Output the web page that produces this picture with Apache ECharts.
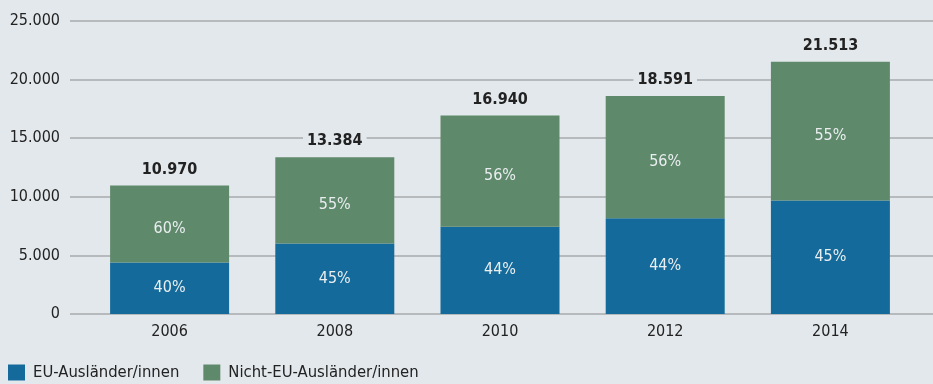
<!DOCTYPE html>
<html>
<head>
<meta charset="utf-8">
<script src="https://cdn.jsdelivr.net/npm/echarts@6/dist/echarts.min.js"></script>
<style>
  html, body { margin: 0; padding: 0; background: #e3e8ec; }
  #chart { width: 933px; height: 384px; }
</style>
</head>
<body>
<div id="chart"></div>
<script>
// Ausländische Studierende nach Herkunft
const years = ['2006', '2008', '2010', '2012', '2014'];
const totals = [10970, 13384, 16940, 18591, 21513];
const euShare = [40, 45, 44, 44, 45];      // Anteil EU in %
const nonEuShare = [60, 55, 56, 56, 55];   // Anteil Nicht-EU in %
const yTicks = [0, 5000, 10000, 15000, 20000, 25000];
const seriesNames = ['EU-Ausländer/innen', 'Nicht-EU-Ausländer/innen'];

const euValues = totals.map((t, i) => Math.round(t * euShare[i] / 100));
const nonEuValues = totals.map((t, i) => t - euValues[i]);

const BG = '#e3e8ec';
const FONT = '"Liberation Sans Narrow", "DejaVu Sans Condensed", "Roboto", sans-serif';
const fmt = v => String(v).replace(/\B(?=(\d{3})+(?!\d))/g, '.');

const chart = echarts.init(document.getElementById('chart'), null, { renderer: 'canvas' });

const yMax = yTicks[yTicks.length - 1];
const yStep = yTicks[1] - yTicks[0];

chart.setOption({
  backgroundColor: BG,
  textStyle: { fontFamily: FONT },
  animation: false,
  legend: {
    left: 8,
    bottom: 3,
    padding: 0,
    itemWidth: 17,
    itemHeight: 16,
    itemGap: 24,
    icon: 'rect',
    textStyle: { fontFamily: FONT, fontSize: 16.5, color: '#222', padding: [0, 0, 0, 3] },
    data: seriesNames
  },
  grid: [
    { left: 87, right: 20, top: 21, bottom: 70 },  // bars
    { left: 70, right: 0, top: 21, bottom: 70 }     // gridlines + y labels
  ],
  xAxis: [
    {
      type: 'category', gridIndex: 0, data: years,
      axisLine: { show: false }, axisTick: { show: false },
      axisLabel: { fontFamily: FONT, fontSize: 16, color: '#222', margin: 10 }
    },
    { type: 'value', gridIndex: 1, show: false, min: 0, max: 1 }
  ],
  yAxis: [
    {
      type: 'value', gridIndex: 0, min: 0, max: yMax, interval: yStep,
      axisLabel: { show: false }, splitLine: { show: false },
      axisLine: { show: false }, axisTick: { show: false }
    },
    {
      type: 'value', gridIndex: 1, min: 0, max: yMax, interval: yStep,
      axisLine: { show: false }, axisTick: { show: false },
      axisLabel: {
        fontFamily: FONT, fontSize: 16, color: '#222', margin: 10,
        formatter: v => fmt(v)
      },
      splitLine: { lineStyle: { color: '#a8abad', width: 1.5 } }
    }
  ],
  series: [
    {
      name: seriesNames[0], type: 'bar', stack: 'total',
      xAxisIndex: 0, yAxisIndex: 0, barWidth: 119,
      itemStyle: { color: '#146a9a' },
      data: euValues,
      label: {
        show: true, position: 'inside', fontFamily: FONT, fontSize: 16,
        color: '#e9eef0', formatter: p => euShare[p.dataIndex] + '%'
      },
      z: 3
    },
    {
      name: seriesNames[1], type: 'bar', stack: 'total',
      xAxisIndex: 0, yAxisIndex: 0, barWidth: 119,
      itemStyle: { color: '#5f896b' },
      data: nonEuValues,
      label: {
        show: true, position: 'inside', offset: [0, 5], fontFamily: FONT, fontSize: 16,
        color: '#e9eef0', formatter: p => nonEuShare[p.dataIndex] + '%'
      },
      z: 3
    },
    {
      // Gesamtsumme über jedem Balken, Hintergrund unterbricht die Rasterlinie
      name: 'Gesamt', type: 'bar', stack: 'sum',
      xAxisIndex: 0, yAxisIndex: 0, barWidth: 119, barGap: '-100%',
      itemStyle: { color: 'transparent' },
      data: totals,
      label: {
        show: true, position: 'top', distance: 7, fontFamily: FONT, fontSize: 16,
        fontWeight: 'bold', color: '#222', backgroundColor: BG,
        padding: [1, 4, 1, 4], formatter: p => fmt(p.value)
      },
      silent: true, z: 4
    }
  ]
});
</script>
</body>
</html>
